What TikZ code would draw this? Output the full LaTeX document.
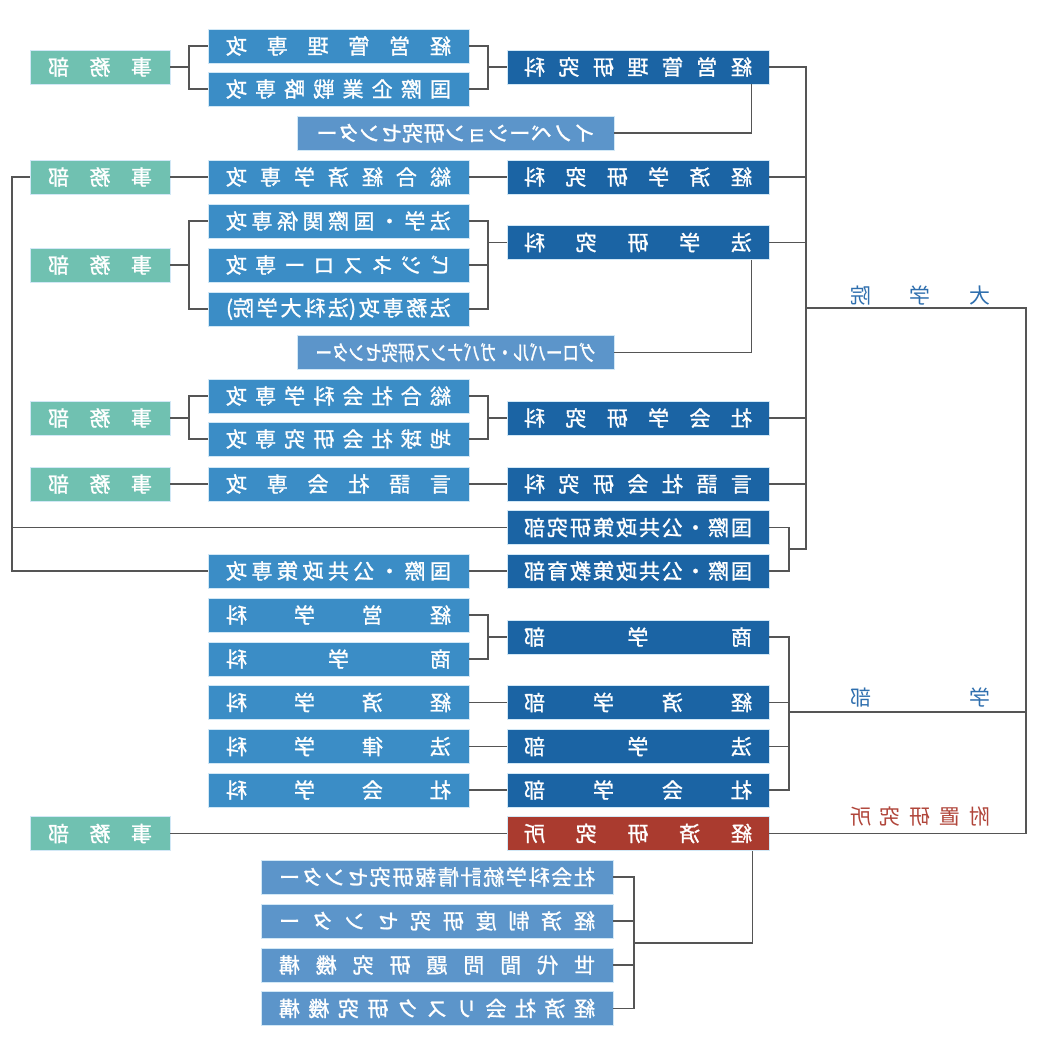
\documentclass[tikz,border=0pt]{standalone}
\usepackage{fontspec}
\usepackage{graphicx}
\newfontfamily\jp{Noto Sans CJK JP}
\newfontfamily\jpbox[FakeBold=1.2]{Noto Sans CJK JP}
\definecolor{gsblue}{HTML}{1B64A4}
\definecolor{majblue}{HTML}{3B8DC6}
\definecolor{ctrblue}{HTML}{5C95CA}
\definecolor{officeteal}{HTML}{70C1B1}
\definecolor{instred}{HTML}{AA3B2F}
\definecolor{edgeblue}{HTML}{D2E8F6}
\definecolor{linegray}{HTML}{555555}
\definecolor{labelblue}{HTML}{2F6FAE}
\definecolor{labelred}{HTML}{B0453A}
% mirrored, spread-out label
\newcommand{\spread}[2]{\reflectbox{\makebox[#1][s]{\spaceskip=0pt plus 1fil\xspaceskip=0pt plus 1fil\relax #2}}}
\tikzset{
  base/.style = {inner sep = 0pt, minimum height = 34pt, text = white,
                 font = \jpbox\fontsize{21}{21}\selectfont, draw = edgeblue, line width = 0.8pt},
  gsbox/.style = {base, fill = gsblue, minimum width = 262pt},
  majbox/.style = {base, fill = majblue, minimum width = 261pt},
  ctrbox/.style = {base, fill = ctrblue, minimum width = 317pt},
  unitbox/.style = {base, fill = ctrblue, minimum width = 352pt},
  officebox/.style = {base, fill = officeteal, minimum width = 140pt},
  instbox/.style = {base, fill = instred, minimum width = 262pt},
  grouplabel/.style = {inner sep = 0pt, font = \jp\fontsize{21}{21}\selectfont},
  conn/.style = {draw = linegray, line width = 1.4pt}
}
\begin{document}
\begin{tikzpicture}[x = 1pt, y = -1pt]
\useasboundingbox (0,0) rectangle (1040,1036);

% junction columns
\coordinate (lj) at (189,0);
\coordinate (rj) at (488,0);
\coordinate (ubus) at (789,0);
\coordinate (gsbus) at (806,0);
\coordinate (farL) at (12,0);
\coordinate (pjc) at (0,549);
\coordinate (gsj) at (806,308);
\coordinate (top) at (1026,308);
\coordinate (ugj) at (789,712);
\coordinate (cj) at (634,943);

% graduate schools
\node[gsbox] (kkR) at (638,67) {\spread{228pt}{経 営 管 理 研 究 科}};
\node[majbox] (kkM1) at (338.5,46) {\spread{225pt}{経 営 管 理 専 攻}};
\node[majbox] (kkM2) at (338.5,89) {\spread{225pt}{国 際 企 業 戦 略 専 攻}};
\node[officebox] (kkJ) at (100,67) {\spread{104pt}{事 務 部}};
\node[ctrbox] (inno) at (455.5,133) {\spread{278pt}{イ ノ ベ ー シ ョ ン 研 究 セ ン タ ー}};

\node[gsbox] (kzR) at (638,177) {\spread{228pt}{経 済 学 研 究 科}};
\node[majbox] (kzM) at (338.5,177) {\spread{225pt}{総 合 経 済 学 専 攻}};
\node[officebox] (kzJ) at (100,177) {\spread{104pt}{事 務 部}};

\node[gsbox] (hoR) at (638,242.5) {\spread{228pt}{法 学 研 究 科}};
\node[majbox] (hoM1) at (338.5,221) {\spread{225pt}{法 学 ・ 国 際 関 係 専 攻}};
\node[majbox] (hoM2) at (338.5,265) {\spread{225pt}{ビ ジ ネ ス ロ ー 専 攻}};
\node[majbox] (hoM3) at (338.5,309) {\spread{225pt}{法 務 専 攻 (法 科 大 学 院)}};
\node[officebox] (hoJ) at (100,265) {\spread{104pt}{事 務 部}};
\node[ctrbox] (glob) at (455.5,352.5) {\reflectbox{\resizebox{280pt}{\height}{グローバル・ガバナンス研究センター}}};

\node[gsbox] (shR) at (638,418) {\spread{228pt}{社 会 学 研 究 科}};
\node[majbox] (shM1) at (338.5,396) {\spread{225pt}{総 合 社 会 科 学 専 攻}};
\node[majbox] (shM2) at (338.5,439) {\spread{225pt}{地 球 社 会 研 究 専 攻}};
\node[officebox] (shJ) at (100,418) {\spread{104pt}{事 務 部}};

\node[gsbox] (gsR) at (638,484) {\spread{228pt}{言 語 社 会 研 究 科}};
\node[majbox] (gsM) at (338.5,484) {\spread{225pt}{言 語 社 会 専 攻}};
\node[officebox] (gsJ) at (100,484) {\spread{104pt}{事 務 部}};

\node[gsbox] (ipR) at (638,527.5) {\spread{228pt}{国 際 ・ 公 共 政 策 研 究 部}};
\node[gsbox] (ieR) at (638,571) {\spread{228pt}{国 際 ・ 公 共 政 策 教 育 部}};
\node[majbox] (ieM) at (338.5,571) {\spread{225pt}{国 際 ・ 公 共 政 策 専 攻}};

% undergraduate faculties
\node[gsbox] (shoR) at (638,637) {\spread{228pt}{商 学 部}};
\node[majbox] (shoM1) at (338.5,615) {\spread{225pt}{経 営 学 科}};
\node[majbox] (shoM2) at (338.5,659) {\spread{225pt}{商 学 科}};
\node[gsbox] (ecoR) at (638,702.5) {\spread{228pt}{経 済 学 部}};
\node[majbox] (ecoM) at (338.5,702.5) {\spread{225pt}{経 済 学 科}};
\node[gsbox] (lawR) at (638,746.5) {\spread{228pt}{法 学 部}};
\node[majbox] (lawM) at (338.5,746.5) {\spread{225pt}{法 律 学 科}};
\node[gsbox] (socR) at (638,790) {\spread{228pt}{社 会 学 部}};
\node[majbox] (socM) at (338.5,790) {\spread{225pt}{社 会 学 科}};

% institute
\node[instbox] (kenR) at (638,833.5) {\spread{228pt}{経 済 研 究 所}};
\node[officebox] (kenJ) at (100,833.5) {\spread{104pt}{事 務 部}};
\node[unitbox] (c1) at (437,877) {\spread{316pt}{社 会 科 学 統 計 情 報 研 究 セ ン タ ー}};
\node[unitbox] (c2) at (437,921) {\spread{316pt}{経 済 制 度 研 究 セ ン タ ー}};
\node[unitbox] (c3) at (437,965) {\spread{316pt}{世 代 間 問 題 研 究 機 構}};
\node[unitbox] (c4) at (437,1008.5) {\spread{316pt}{経 済 社 会 リ ス ク 研 究 機 構}};

% group labels
\node[grouplabel, text = labelblue] (lblGS) at (920,295) {\spread{140pt}{大 学 院}};
\node[grouplabel, text = labelblue] (lblUG) at (920,697) {\spread{140pt}{学 部}};
\node[grouplabel, text = labelred] (lblRI) at (920,817) {\spread{140pt}{附 置 研 究 所}};

% connectors: management
\draw[conn] (kkR.west) -- (kkR.west -| rj);
\draw[conn] (kkM1.east) -| (rj |- kkR.west) |- (kkM2.east);
\draw[conn] (kkJ.east) -- (kkJ.east -| lj);
\draw[conn] (kkM1.west) -| (lj |- kkJ.east) |- (kkM2.west);
\draw[conn] ([xshift=-18pt]kkR.south east) |- (inno.east);

% economics
\draw[conn] (kzM.east) -- (kzR.west);
\draw[conn] (kzJ.east) -- (kzM.west);
\draw[conn] (kzJ.west) -| (farL |- ieM.west) -- (ieM.west);
\draw[conn] (farL |- ipR.west) -- (ipR.west);

% law
\draw[conn] (hoR.west) -- (hoR.west -| rj);
\draw[conn] (hoM1.east) -| (rj |- hoM3.east) -- (hoM3.east);
\draw[conn] (hoM2.east) -- (hoM2.east -| rj);
\draw[conn] (hoJ.east) -- (hoJ.east -| lj);
\draw[conn] (hoM1.west) -| (lj |- hoM3.west) -- (hoM3.west);
\draw[conn] ([xshift=-18pt]hoR.south east) |- (glob.east);

% social sciences
\draw[conn] (shR.west) -- (shR.west -| rj);
\draw[conn] (shM1.east) -| (rj |- shR.west) |- (shM2.east);
\draw[conn] (shJ.east) -- (shJ.east -| lj);
\draw[conn] (shM1.west) -| (lj |- shJ.east) |- (shM2.west);

% language and society, public policy
\draw[conn] (gsM.east) -- (gsR.west);
\draw[conn] (gsJ.east) -- (gsM.west);
\draw[conn] (ieM.east) -- (ieR.west);
\draw[conn] (ipR.east) -| (ubus |- pjc) |- (ieR.east);

% graduate bus
\draw[conn] (kkR.east) -| (gsbus |- pjc) -- (ubus |- pjc);
\foreach \n in {kzR, hoR, shR, gsR}
{
	\draw[conn] (\n.east) -- (\n.east -| gsbus);
}
\draw[conn] (gsj) -- (top) -- (top |- kenR.east);

% undergraduate
\draw[conn] (shoR.west) -- (shoR.west -| rj);
\draw[conn] (shoM1.east) -| (rj |- shoR.west) |- (shoM2.east);
\draw[conn] (ecoM.east) -- (ecoR.west);
\draw[conn] (lawM.east) -- (lawR.west);
\draw[conn] (socM.east) -- (socR.west);
\draw[conn] (shoR.east) -| (ubus |- socR.east) -- (socR.east);
\foreach \n in {ecoR, lawR}
{
	\draw[conn] (\n.east) -- (\n.east -| ubus);
}
\draw[conn] (ugj) -- (top |- ugj);

% institute
\draw[conn] (kenJ.east) -- (kenR.west);
\draw[conn] (kenR.east) -- (top |- kenR.east);
\draw[conn] ([xshift=-17pt]kenR.south east) |- (cj);
\draw[conn] (c1.east) -| (cj |- c4.east) -- (c4.east);
\foreach \n in {c2, c3}
{
	\draw[conn] (\n.east) -- (\n.east -| cj);
}
\end{tikzpicture}
\end{document}
